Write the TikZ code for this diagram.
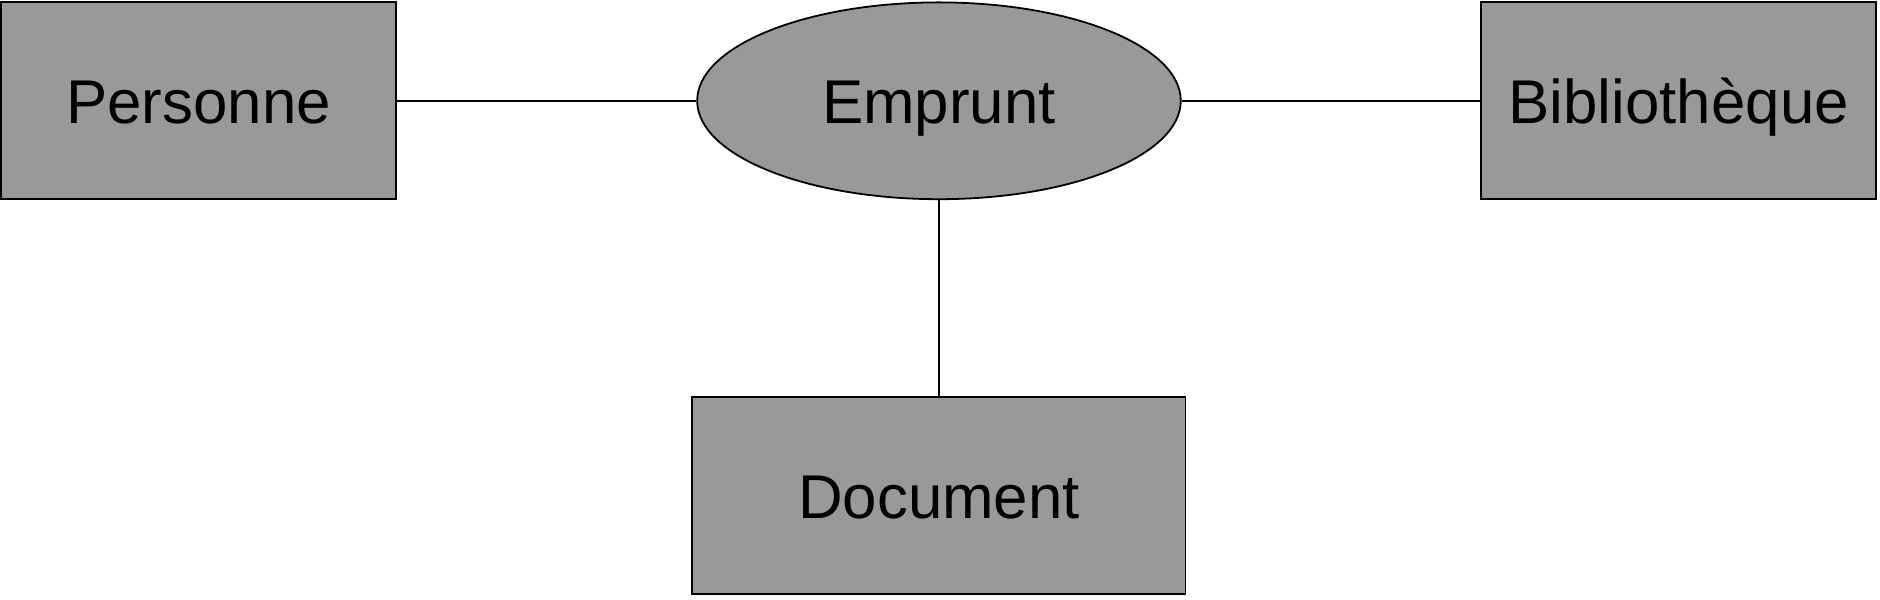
\documentclass[tikz,border=0pt]{standalone}
\usepackage{fontspec}
\setmainfont{Liberation Sans}
\usetikzlibrary{shapes.geometric}
\begin{document}
\begin{tikzpicture}[x=1pt,y=-1pt,
  label text/.style={font=\fontsize{51.5}{60}\selectfont,text height=38pt,text depth=0pt},
  entity/.style={draw=black,fill=gray60,line width=1.5pt,rectangle,inner sep=0pt,
    minimum width=329pt,minimum height=164pt,label text},
  relation/.style={draw=black,fill=gray60,line width=1.5pt,ellipse,inner sep=0pt,
    minimum width=403pt,minimum height=164pt,label text},
  link/.style={line width=1.3pt,draw=black}]
\definecolor{gray60}{HTML}{999999}
\useasboundingbox (0,0) rectangle (1566.7,499.2);
\node[entity] (pers) at (165.5,84) {Personne};
\node[relation] (emp) at (782.5,84) {Emprunt};
\node[entity] (bib) at (1399,84) {Bibliothèque};
\node[entity,minimum width=411pt] (doc) at (782.5,413) {Document};
\draw[link] (pers.east) -- (emp.west);
\draw[link] (emp.east) -- (bib.west);
\draw[link] (emp.south) -- (doc.north);
\end{tikzpicture}
\end{document}
